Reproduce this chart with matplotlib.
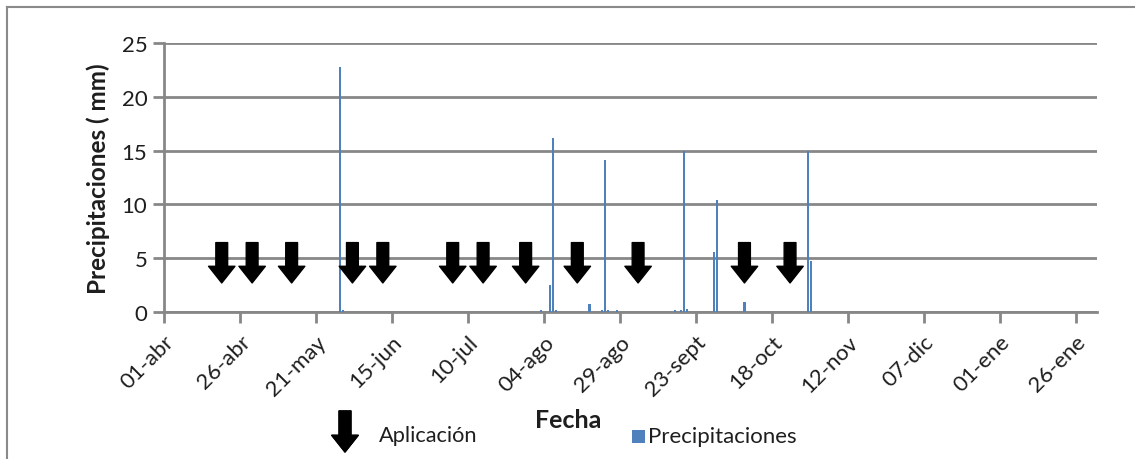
import matplotlib
matplotlib.use("Agg")
import matplotlib.pyplot as plt
import numpy as np
import pandas as pd
from matplotlib.lines import Line2D
from matplotlib.patches import Rectangle

plt.rcParams['font.family'] = ['Lato', 'DejaVu Sans']

# ---- data ----
season_start = "2012-04-01"
rain_dates = ["2012-05-29", "2012-05-30", "2012-08-03", "2012-08-06", "2012-08-07",
              "2012-08-08", "2012-08-19", "2012-08-23", "2012-08-24", "2012-08-25",
              "2012-08-28", "2012-09-16", "2012-09-18", "2012-09-19", "2012-09-20",
              "2012-09-29", "2012-09-30", "2012-10-09", "2012-10-30", "2012-10-31"]
rain_mm = [22.8, 0.2, 0.2, 2.5, 16.2,
           0.2, 0.7, 0.2, 14.1, 0.2,
           0.2, 0.2, 0.2, 15.0, 0.3,
           5.6, 10.4, 0.9, 15.0, 4.7]
application_dates = ["2012-04-20", "2012-04-30", "2012-05-13", "2012-06-02", "2012-06-12",
                     "2012-07-05", "2012-07-15", "2012-07-29", "2012-08-15", "2012-09-04",
                     "2012-10-09", "2012-10-24"]
tick_labels = ["01-abr", "26-abr", "21-may", "15-jun", "10-jul", "04-ago", "29-ago",
               "23-sept", "18-oct", "12-nov", "07-dic", "01-ene", "26-ene"]
y_ticks = [0, 5, 10, 15, 20, 25]

start = pd.Timestamp(season_start)
rain_days = np.array([(pd.Timestamp(d) - start).days for d in rain_dates])
app_days = np.array([(pd.Timestamp(d) - start).days for d in application_dates])
tick_days = np.arange(len(tick_labels)) * 25

W, H = 1135, 460
fig = plt.figure(figsize=(W / 100, H / 100), dpi=100)
ax = fig.add_axes([164 / W, 1 - 313 / H, (1097 - 164) / W, (313 - 44) / H])

grid_c = '#878787'
blue = '#4F81BD'
txt_c = '#1e1e1e'

bars = ax.bar(rain_days, rain_mm, width=0.7, color=blue, zorder=3,
              label='Precipitaciones')

ax.set_xlim(0, 307)
ax.set_ylim(0, 25)
ax.set_xticks(tick_days)
ax.set_xticklabels(tick_labels, rotation=45, ha='right', rotation_mode='anchor',
                   fontsize=16)
ax.set_yticks(y_ticks)
ax.set_yticklabels([str(v) for v in y_ticks], fontsize=16)
ax.tick_params(axis='both', direction='out', length=8, width=2, color=grid_c,
               labelcolor=txt_c)
ax.tick_params(axis='x', pad=6)
ax.tick_params(axis='y', pad=4)
ax.grid(axis='y', color=grid_c, linewidth=2, zorder=0)
ax.set_axisbelow(True)
for s in ['top', 'right']:
    ax.spines[s].set_visible(False)
for s in ['left', 'bottom']:
    ax.spines[s].set_color(grid_c)
    ax.spines[s].set_linewidth(2)

ax.set_ylabel('Precipitaciones ( mm)', fontsize=17.5, fontweight='bold', labelpad=8,
              color=txt_c)

# application arrows
arrow_style = 'simple,head_length=12,head_width=19,tail_width=8.5'
for d in app_days:
    ax.annotate('', xy=(d, 2.7), xytext=(d, 6.45),
                arrowprops=dict(arrowstyle=arrow_style, mutation_scale=1,
                                color='black', shrinkA=0, shrinkB=0),
                zorder=4)

# x label
fig.text(568 / W, 1 - 421 / H, 'Fecha', fontsize=18, fontweight='bold',
         ha='center', va='center', color=txt_c)

# legend: application arrow
fig.add_artist(plt.annotate('', xy=(345 / W, 1 - 453 / H), xytext=(345 / W, 1 - 412 / H),
                            xycoords='figure fraction', textcoords='figure fraction',
                            arrowprops=dict(arrowstyle=arrow_style, mutation_scale=1,
                                            color='black', shrinkA=0, shrinkB=0)))
fig.text(379 / W, 1 - 436 / H, 'Aplicación', fontsize=15.7, ha='left', va='center',
         color=txt_c)

# legend: precipitation
fig.add_artist(Rectangle((632 / W, 1 - 444 / H), 13 / W, 13 / H,
                         transform=fig.transFigure, facecolor=blue, edgecolor='none'))
fig.text(648 / W, 1 - 437 / H, 'Precipitaciones', fontsize=16, ha='left', va='center',
         color=txt_c)

# chart border (left and top)
fig.add_artist(Line2D([7 / W, 7 / W], [0, 1 - 8 / H], transform=fig.transFigure,
                      color='#8a8a8a', linewidth=1.5))
fig.add_artist(Line2D([7 / W, 1], [1 - 8 / H, 1 - 8 / H], transform=fig.transFigure,
                      color='#8a8a8a', linewidth=1.5))

fig.savefig('out.png', dpi=100)
